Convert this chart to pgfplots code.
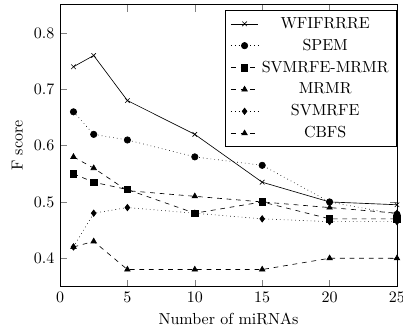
\documentclass[border=0pt]{standalone}
\usepackage{pgfplots}
\pgfplotsset{compat=1.18}
\usetikzlibrary{calc}
\begin{document}
\begin{tikzpicture}
\begin{axis}[
  scale only axis,
  width=210.6pt, height=176pt,
  xmin=0, xmax=25, ymin=0.35, ymax=0.85,
  xtick={0,5,10,15,20,25},
  ytick={0.4,0.5,0.6,0.7,0.8},
  yticklabel style={/pgf/number format/fixed, /pgf/number format/precision=1},
  xlabel={Number of miRNAs},
  ylabel={F score},
  legend cell align=center,
  legend style={at={(1,0.98)}, anchor=north east, font=\normalsize, row sep=1.2pt},
]
\addplot[black, solid, mark=x] coordinates {(1,0.74) (2.5,0.76) (5,0.68) (10,0.62) (15,0.535) (20,0.5) (25,0.495)};
\addlegendentry{WFIFRRRE}
\addplot[black, dotted, mark=*, mark options={solid}] coordinates {(1,0.66) (2.5,0.62) (5,0.61) (10,0.58) (15,0.565) (20,0.5) (25,0.478)};
\addlegendentry{SPEM}
\addplot[black, dashed, mark=square*, mark options={solid}] coordinates {(1,0.55) (2.5,0.535) (5,0.522) (10,0.48) (15,0.5) (20,0.47) (25,0.47)};
\addlegendentry{SVMRFE-MRMR}
\addplot[black, dashed, mark=triangle*, mark options={solid}] coordinates {(1,0.58) (2.5,0.56) (5,0.52) (10,0.51) (15,0.5) (20,0.49) (25,0.48)};
\addlegendentry{MRMR}
\addplot[black, dotted, mark=diamond*, mark options={solid}] coordinates {(1,0.42) (2.5,0.48) (5,0.49) (10,0.48) (15,0.47) (20,0.465) (25,0.465)};
\addlegendentry{SVMRFE}
\addplot[black, dashed, mark=triangle*, mark options={solid}] coordinates {(1,0.42) (2.5,0.43) (5,0.38) (10,0.38) (15,0.38) (20,0.40) (25,0.40)};
\addlegendentry{CBFS}
\end{axis}
\pgfresetboundingbox
\path[use as bounding box] ($(current axis.south west)+(-37.5pt,-29.4pt)$) rectangle ($(current axis.north east)+(3.75pt,3pt)$);
\end{tikzpicture}
\end{document}
